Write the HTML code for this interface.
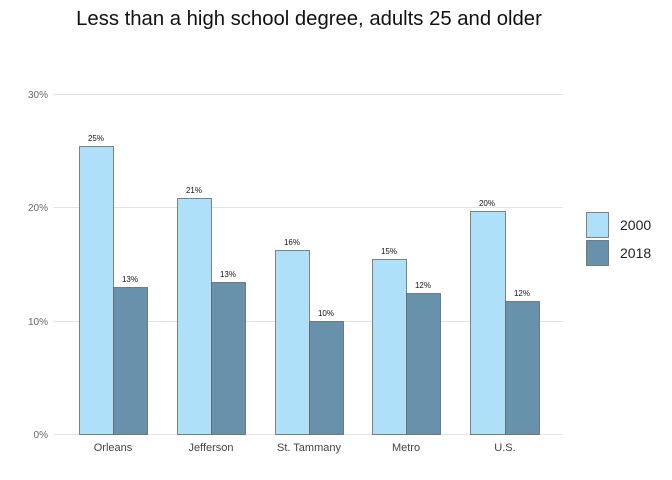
<!DOCTYPE html>
<html><head><meta charset="utf-8"><style>body{margin:0;background:#fff}svg{display:block}</style></head><body>
<svg width="672" height="480" xmlns="http://www.w3.org/2000/svg" font-family="Liberation Sans, sans-serif">
<rect width="672" height="480" fill="#fff"/>
<text x="309" y="25" font-size="20.3" text-anchor="middle" fill="#111">Less than a high school degree, adults 25 and older</text>
<g stroke="#e3e3e3" stroke-width="1">
<line x1="54" x2="563" y1="94.5" y2="94.5"/><line x1="54" x2="563" y1="207.5" y2="207.5"/><line x1="54" x2="563" y1="321.5" y2="321.5"/><line x1="54" x2="563" y1="434.5" y2="434.5"/>
</g>
<g font-size="10" fill="#666" text-anchor="end">
<text x="48" y="98">30%</text><text x="48" y="211">20%</text><text x="48" y="325">10%</text><text x="48" y="438">0%</text>
</g>
<g stroke="#666" stroke-width="0.8">
<rect x="79.5" y="146.5" width="34" height="288" fill="#aee0fa"/><rect x="113.5" y="287.5" width="34" height="147" fill="#6892ab"/>
<rect x="177.5" y="198.5" width="34" height="236" fill="#aee0fa"/><rect x="211.5" y="282.5" width="34" height="152" fill="#6892ab"/>
<rect x="275.5" y="250.5" width="34" height="184" fill="#aee0fa"/><rect x="309.5" y="321.5" width="34" height="113" fill="#6892ab"/>
<rect x="372.5" y="259.5" width="34" height="175" fill="#aee0fa"/><rect x="406.5" y="293.5" width="34" height="141" fill="#6892ab"/>
<rect x="470.5" y="211.5" width="35" height="223" fill="#aee0fa"/><rect x="505.5" y="301.5" width="34" height="133" fill="#6892ab"/>
</g>
<g font-size="8" fill="#111" text-anchor="middle">
<text x="96" y="141">25%</text><text x="130" y="282">13%</text>
<text x="194" y="193">21%</text><text x="228" y="277">13%</text>
<text x="292" y="245">16%</text><text x="326" y="316">10%</text>
<text x="389" y="254">15%</text><text x="423" y="288">12%</text>
<text x="487" y="206">20%</text><text x="522" y="296">12%</text>
</g>
<g font-size="11" fill="#444" text-anchor="middle">
<text x="113" y="451">Orleans</text><text x="211" y="451">Jefferson</text><text x="309" y="451">St. Tammany</text><text x="406" y="451">Metro</text><text x="505" y="451">U.S.</text>
</g>
<rect x="586.5" y="212.5" width="22" height="25" fill="#aee0fa" stroke="#666" stroke-width="0.8"/>
<rect x="586.5" y="240.5" width="22" height="25" fill="#6892ab" stroke="#666" stroke-width="0.8"/>
<g font-size="14" fill="#222"><text x="620" y="230">2000</text><text x="620" y="258">2018</text></g>
</svg>
</body></html>
